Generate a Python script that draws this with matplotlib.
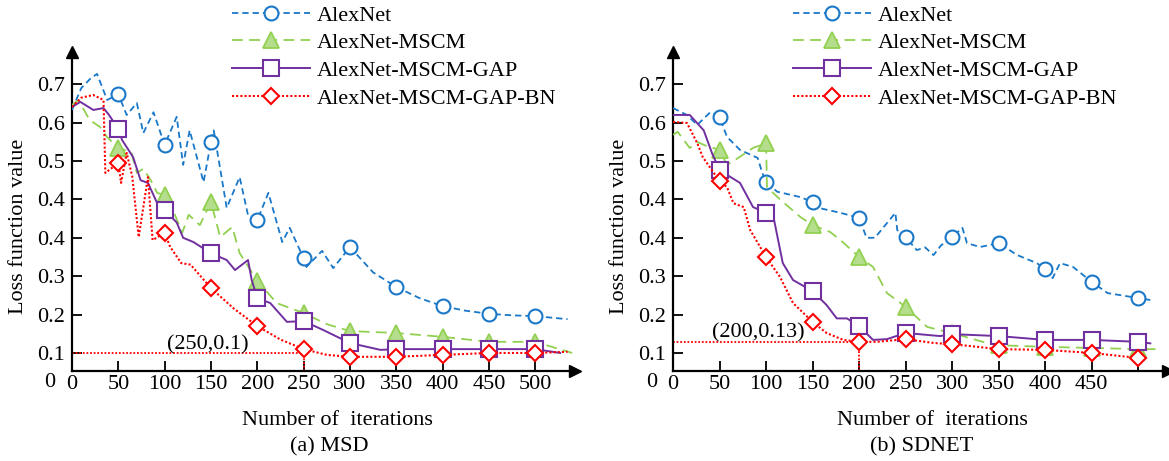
import matplotlib.pyplot as plt
import numpy as np

plt.rcParams['font.family'] = ['Liberation Serif', 'DejaVu Serif']

labels = ['AlexNet', 'AlexNet-MSCM', 'AlexNet-MSCM-GAP', 'AlexNet-MSCM-GAP-BN']
marks = [50, 100, 150, 200, 250, 300, 350, 400, 450, 500]
ytick_labels = ['0.1', '0.2', '0.3', '0.4', '0.4', '0.5', '0.6', '0.7']

# (a) MSD
a_alex_x = [0, 10, 20, 27, 38, 50, 59, 70, 77, 88, 100, 113, 120, 127, 142, 150, 153, 167, 181, 190,
            200, 212, 227, 235, 250, 253, 270, 282, 300, 325, 350, 375, 400, 425, 450, 475, 500, 535]
a_alex_y = [0.733, 0.79, 0.815, 0.827, 0.759, 0.774, 0.72, 0.751, 0.673, 0.727, 0.642, 0.715, 0.59, 0.68,
            0.545, 0.649, 0.68, 0.478, 0.558, 0.459, 0.446, 0.517, 0.389, 0.426, 0.347, 0.324, 0.366,
            0.321, 0.376, 0.31, 0.272, 0.243, 0.222, 0.21, 0.202, 0.198, 0.196, 0.188]
a_mscm_x = [0, 7, 19, 30, 38, 50, 64, 70, 77, 85, 92, 100, 106, 119, 126, 138, 150, 160, 173, 181,
            200, 221, 250, 275, 300, 350, 400, 450, 500, 540]
a_mscm_y = [0.746, 0.759, 0.707, 0.689, 0.662, 0.634, 0.623, 0.569, 0.58, 0.55, 0.517, 0.511, 0.49,
            0.413, 0.46, 0.433, 0.493, 0.402, 0.428, 0.36, 0.288, 0.23, 0.204, 0.175, 0.157, 0.152,
            0.142, 0.129, 0.129, 0.10]
a_gap_x = [0, 9, 23, 34, 40, 50, 54, 66, 74, 82, 92, 100, 113, 120, 131, 150, 167, 176, 190, 194,
           200, 214, 232, 250, 271, 300, 333, 350, 400, 450, 500, 527]
a_gap_y = [0.741, 0.754, 0.733, 0.738, 0.72, 0.683, 0.655, 0.61, 0.55, 0.543, 0.49, 0.472, 0.44, 0.40,
           0.389, 0.36, 0.342, 0.316, 0.342, 0.29, 0.243, 0.23, 0.181, 0.183, 0.16, 0.126, 0.108,
           0.11, 0.11, 0.11, 0.11, 0.10]
a_bn_x = [0, 10, 23, 34, 36, 42, 50, 53, 59, 65, 72, 82, 87, 100, 106, 118, 128, 150, 175, 200,
          225, 250, 275, 300, 350, 400, 450, 500, 535]
a_bn_y = [0.741, 0.765, 0.772, 0.759, 0.569, 0.58, 0.595, 0.543, 0.621, 0.56, 0.402, 0.558, 0.394,
          0.413, 0.376, 0.334, 0.33, 0.269, 0.215, 0.17, 0.135, 0.11, 0.095, 0.09, 0.09, 0.095,
          0.1, 0.1, 0.103]

# (b) SDNET
b_alex_x = [0, 15, 26, 40, 50, 58, 72, 91, 96, 100, 112, 137, 150, 158, 180, 200, 208, 217, 239, 241,
            250, 262, 271, 280, 288, 300, 311, 316, 330, 350, 370, 391, 400, 408, 416, 430, 450, 467,
            500, 513]
b_alex_y = [0.738, 0.72, 0.694, 0.727, 0.715, 0.663, 0.629, 0.608, 0.569, 0.545, 0.52, 0.506, 0.493,
            0.477, 0.465, 0.452, 0.40, 0.40, 0.465, 0.42, 0.402, 0.368, 0.375, 0.355, 0.38, 0.402,
            0.426, 0.386, 0.376, 0.386, 0.355, 0.334, 0.319, 0.295, 0.334, 0.324, 0.285, 0.256,
            0.243, 0.238]
b_mscm_x = [0, 5, 18, 27, 35, 50, 58, 70, 86, 100, 101, 115, 137, 150, 169, 180, 200, 215, 230, 250,
            273, 294, 300, 337, 350, 400, 450, 500, 520]
b_mscm_y = [0.668, 0.676, 0.634, 0.649, 0.64, 0.629, 0.59, 0.608, 0.634, 0.647, 0.532, 0.50, 0.454,
            0.433, 0.415, 0.394, 0.35, 0.324, 0.256, 0.22, 0.168, 0.155, 0.152, 0.126, 0.12, 0.116,
            0.113, 0.11, 0.11]
b_gap_x = [0, 18, 33, 42, 50, 58, 72, 86, 100, 108, 118, 129, 150, 165, 176, 187, 200, 215, 230, 250,
           287, 300, 350, 400, 450, 500, 513]
b_gap_y = [0.72, 0.72, 0.68, 0.62, 0.577, 0.564, 0.543, 0.48, 0.465, 0.454, 0.334, 0.29, 0.261, 0.225,
           0.19, 0.19, 0.17, 0.134, 0.136, 0.152, 0.144, 0.149, 0.144, 0.134, 0.134, 0.129, 0.125]
b_bn_x = [0, 15, 26, 32, 50, 58, 65, 76, 83, 100, 115, 129, 150, 165, 183, 200, 219, 250, 280, 300,
          350, 400, 450, 500]
b_bn_y = [0.702, 0.699, 0.647, 0.61, 0.548, 0.532, 0.49, 0.48, 0.42, 0.35, 0.298, 0.23, 0.181, 0.152,
          0.134, 0.129, 0.129, 0.136, 0.126, 0.123, 0.11, 0.108, 0.1, 0.087]

colors = ['#1a78c8', '#92d050', '#7030a0', '#ff0000']
styles = [
    dict(dashes=(3.5, 2.2), lw=1.3, marker='o', ms=10, mfc='white', mew=1.5),
    dict(dashes=(6, 3.5), lw=1.3, marker='^', ms=11, mfc='#b4dd8c', mew=1.3),
    dict(ls='-', lw=1.4, marker='s', ms=11, mfc='white', mew=1.5),
    dict(dashes=(1, 1), lw=1.5, marker='D', ms=8.5, mfc='white', mew=1.5),
]

fig = plt.figure(figsize=(11.69, 4.61), dpi=100)
W, H = 1169, 461


def draw(ax, series, xmax, xticklabels, ann_xy, ann_text, ann_pt):
    for (xs, ys), lab, c, st in zip(series, labels, colors, styles):
        xs = np.array(xs)
        idx = list(np.where(np.isin(xs, marks))[0])
        ax.plot(xs, ys, color=c, mec=c, label=lab, markevery=idx, zorder=3, **st)
    # guide lines to the marked point
    px, py = ann_pt
    ax.plot([0, px], [py, py], color='#ff0000', lw=1.3, dashes=(1, 1), zorder=2)
    ax.plot([px, px], [0.053, py], color='#ff0000', lw=1.3, dashes=(1, 1), zorder=2)
    ax.text(ann_xy[0], ann_xy[1], ann_text, fontsize=16, ha='center', va='center')

    ax.set_xlim(0, xmax)
    ax.set_ylim(0.053, 0.884)
    ax.set_xticks([0] + marks)
    ax.set_xticklabels(xticklabels)
    ax.set_yticks([0.1, 0.2, 0.3, 0.4, 0.5, 0.6, 0.7, 0.8])
    ax.set_yticklabels(ytick_labels)
    ax.tick_params(direction='in', length=7, width=1.3, labelsize=16)
    ax.tick_params(axis='x', pad=3)
    ax.tick_params(axis='y', pad=5)
    for s in ['top', 'right']:
        ax.spines[s].set_visible(False)
    for s in ['left', 'bottom']:
        ax.spines[s].set_linewidth(1.6)
    ax.plot(1, 0.053, '>k', ms=8, transform=ax.get_yaxis_transform(), clip_on=False)
    ax.plot(0, 1, '^k', ms=8, transform=ax.get_xaxis_transform(), clip_on=False)
    ax.text(-0.044, -0.035, '0', fontsize=16, ha='center', va='center', transform=ax.transAxes)


# left panel
axL = fig.add_axes([72 / W, 1 - 371 / H, 503 / W, 319 / H])
draw(axL, [(a_alex_x, a_alex_y), (a_mscm_x, a_mscm_y), (a_gap_x, a_gap_y), (a_bn_x, a_bn_y)],
     543, ['0'] + [str(m) for m in marks], (147, 0.121), '(250,0.1)', (250, 0.1))

# right panel
axR = fig.add_axes([673 / W, 1 - 371 / H, 495 / W, 319 / H])
draw(axR, [(b_alex_x, b_alex_y), (b_mscm_x, b_mscm_y), (b_gap_x, b_gap_y), (b_bn_x, b_bn_y)],
     532, ['0'] + [str(m) for m in marks[:-1]] + [''], (92, 0.152), '(200,0.13)', (200, 0.129))

for ax, lx in [(axL, 232), (axR, 793)]:
    ax.legend(loc='upper left', bbox_to_anchor=(lx / W, 1 - 5 / H), bbox_transform=fig.transFigure,
              frameon=False, fontsize=16, handlelength=3.5, handletextpad=0.3,
              labelspacing=0.32, borderpad=0, borderaxespad=0)

for cx, capx, ylx, cap in [(337, 329, 19, '(a) MSD'), (932, 922, 619, '(b) SDNET')]:
    fig.text(cx / W, 1 - 420 / H, 'Number of  iterations', fontsize=16, ha='center', va='center')
    fig.text(capx / W, 1 - 447 / H, cap, fontsize=16, ha='center', va='center')
    fig.text(ylx / W, 1 - 226 / H, 'Loss function value', fontsize=16, rotation=90,
             ha='center', va='center')

fig.savefig('out.png', dpi=100)
